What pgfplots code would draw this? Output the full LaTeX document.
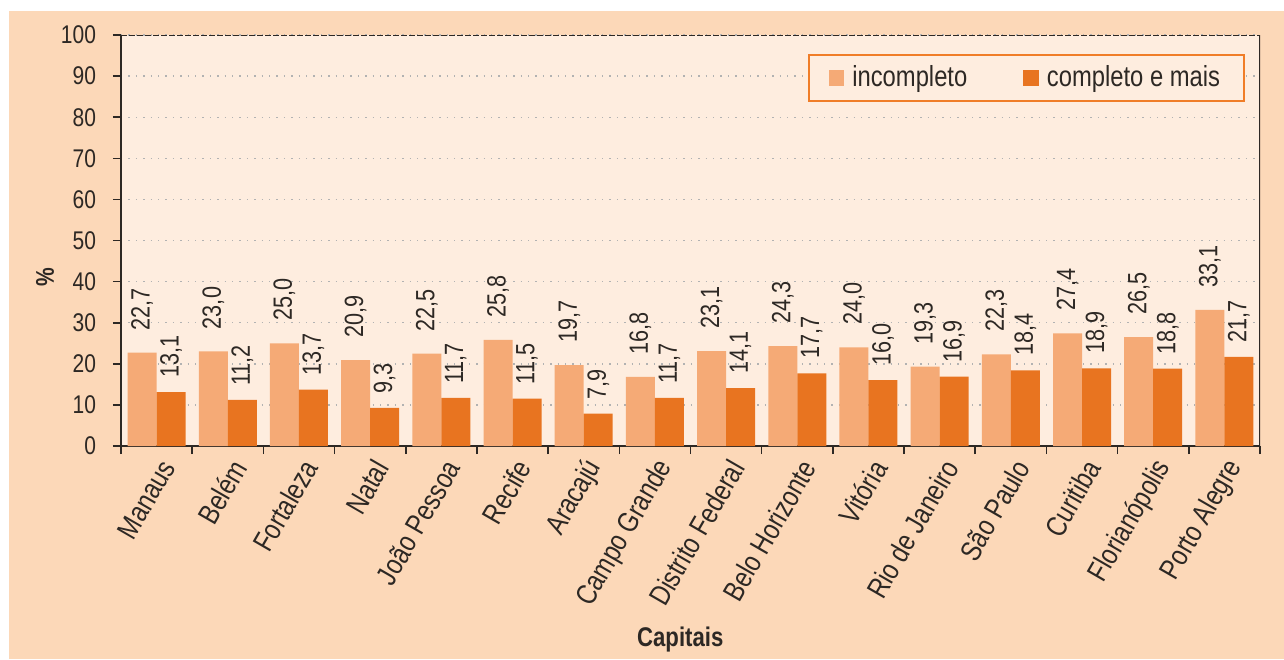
\documentclass[border=0pt]{standalone}
\usepackage{fontspec}
\setmainfont{Liberation Sans}[FakeStretch=0.82]
\usepackage{pgfplots}
\pgfplotsset{compat=1.18}
\usetikzlibrary{backgrounds}
\definecolor{outerbg}{RGB}{252,216,184}
\definecolor{plotbg}{RGB}{254,237,223}
\definecolor{lightbar}{RGB}{245,170,118}
\definecolor{darkbar}{RGB}{232,116,32}
\definecolor{legframe}{RGB}{240,125,40}
\definecolor{axcol}{RGB}{45,40,36}
\newcommand{\tfont}{\fontsize{12.8}{14}\selectfont}
\newcommand{\vfont}{\fontsize{13.2}{15}\selectfont}
\newcommand{\xfont}{\fontsize{14.5}{16}\selectfont}
\begin{document}
\begin{tikzpicture}
\begin{axis}[
  scale only axis, width=569.5pt, height=205.5pt,
  ybar=0pt, bar width=14.5pt,
  xmin=-0.5, xmax=15.5, ymin=0, ymax=100,
  axis lines*=left, axis line style={axcol, line width=0.8pt},
  axis background/.style={fill=plotbg},
  tick align=outside, major tick length=4pt,
  tick style={axcol, line width=0.8pt},
  xtick={-0.5,0.5,...,15.5}, xticklabels={},
  extra x ticks={0,...,15},
  extra x tick labels={Manaus,Belém,Fortaleza,Natal,João Pessoa,Recife,Aracajú,Campo Grande,Distrito Federal,Belo Horizonte,Vitória,Rio de Janeiro,São Paulo,Curitiba,Florianópolis,Porto Alegre},
  extra x tick style={major tick length=0pt,
    tick label style={rotate=60, anchor=east, font=\xfont, text=axcol, xshift=-1pt, yshift=-9pt}},
  ytick={0,10,...,100},
  ymajorgrids, grid style={gray!60, line width=0.7pt, dash pattern=on 0.7pt off 3pt},
  yticklabel style={font=\tfont, text=axcol, xshift=-5pt},
  /pgf/number format/assume math mode=true,
  /pgf/number format/use comma,
  /pgf/number format/fixed, /pgf/number format/fixed zerofill,
  /pgf/number format/precision=1,
  yticklabel={\pgfmathprintnumber[precision=0,fixed zerofill=false]{\tick}},
  nodes near coords,
  every node near coord/.append style={rotate=90, anchor=west, font=\vfont, text=axcol},
  ylabel={\bfseries\%},
  ylabel style={at={([xshift=-38pt]axis description cs:0,0.41)}, anchor=center, font=\tfont, text=axcol},
  xlabel={\bfseries Capitais},
  xlabel style={at={([yshift=-97pt]axis description cs:0.491,0)}, anchor=center, font=\fontsize{13.5}{15}\selectfont, text=axcol},
  legend style={at={(rel axis cs:0.9868,0.954)}, anchor=north east,
    draw=legframe, line width=0.9pt, fill=plotbg, font=\fontsize{14.5}{16}\selectfont,
    text=axcol, inner xsep=10pt, inner ysep=3.5pt,
    /tikz/every odd column/.append style={column sep=2pt},
    /tikz/every even column/.append style={column sep=26pt}},
  legend columns=2,
  legend image code/.code={\fill[#1] (0pt,-3.9pt) rectangle (7.8pt,3.9pt);},
]
\addplot[fill=lightbar, draw=none, every node near coord/.append style={inner xsep=11pt}] coordinates {
 (0,22.7) (1,23.0) (2,25.0) (3,20.9) (4,22.5) (5,25.8) (6,19.7) (7,16.8)
 (8,23.1) (9,24.3) (10,24.0) (11,19.3) (12,22.3) (13,27.4) (14,26.5) (15,33.1)};
\addlegendentry{incompleto}
\addplot[fill=darkbar, draw=none, every node near coord/.append style={inner xsep=7pt}] coordinates {
 (0,13.1) (1,11.2) (2,13.7) (3,9.3) (4,11.7) (5,11.5) (6,7.9) (7,11.7)
 (8,14.1) (9,17.7) (10,16.0) (11,16.9) (12,18.4) (13,18.9) (14,18.8) (15,21.7)};
\addlegendentry{completo e mais}
\draw[axcol, line width=0.8pt] (rel axis cs:1,0) -- (rel axis cs:1,1);
\draw[axcol, line width=0.8pt, dash pattern=on 3pt off 1pt] (rel axis cs:0,1) -- (rel axis cs:1,1);
\coordinate (sw) at (rel axis cs:0,0);
\coordinate (ne) at (rel axis cs:1,1);
\end{axis}
\begin{scope}[on background layer]
\fill[white] ([xshift=-60.5pt,yshift=-106.5pt]sw) rectangle ([xshift=12pt,yshift=17.5pt]ne);
\fill[outerbg] ([xshift=-56pt,yshift=-106.5pt]sw) rectangle ([xshift=12pt,yshift=12pt]ne);
\end{scope}
\pgfresetboundingbox
\useasboundingbox ([xshift=-60.5pt,yshift=-106.5pt]sw) rectangle ([xshift=12pt,yshift=17.5pt]ne);
\end{tikzpicture}
\end{document}
